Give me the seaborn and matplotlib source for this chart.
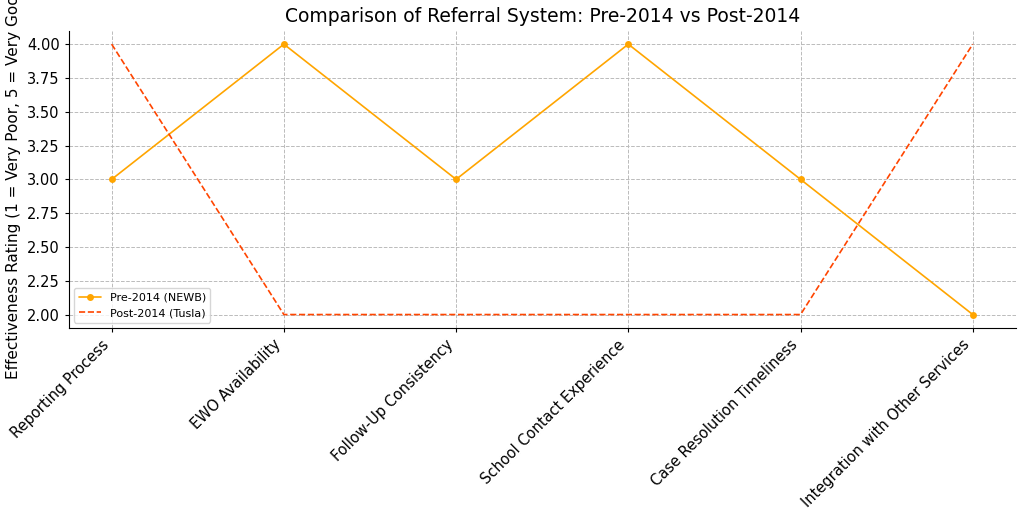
import pandas as pd
import matplotlib
matplotlib.use("Agg")
import matplotlib.pyplot as plt
import seaborn as sns

sns.set_style("whitegrid")
plt.rcParams['font.family'] = ['DejaVu Sans']
plt.rcParams['text.color'] = 'black'
plt.rcParams['xtick.color'] = 'black'
plt.rcParams['ytick.color'] = 'black'
plt.rcParams['axes.labelcolor'] = 'black'

aspects = ['Reporting Process', 'EWO Availability', 'Follow-Up Consistency',
           'School Contact Experience', 'Case Resolution Timeliness',
           'Integration with Other Services']
pre_2014 = [3, 4, 3, 4, 3, 2]
post_2014 = [4, 2, 2, 2, 2, 4]

df = pd.DataFrame({'Aspect': aspects, 'Pre': pre_2014, 'Post': post_2014})

fig, ax = plt.subplots(figsize=(10.24, 5.11), dpi=100)
sns.lineplot(x='Aspect', y='Pre', data=df, marker='o', markersize=5, markeredgewidth=0,
             color='orange', linewidth=1.2, label='Pre-2014 (NEWB)', ax=ax, sort=False)
sns.lineplot(x='Aspect', y='Post', data=df, color='orangered', linestyle='--',
             linewidth=1.2, label='Post-2014 (Tusla)', ax=ax, sort=False)

ax.set_title('Comparison of Referral System: Pre-2014 vs Post-2014', fontsize=13.5)
ax.set_xlabel('')
ax.set_ylabel('Effectiveness Rating (1 = Very Poor, 5 = Very Good)', fontsize=11)
ax.set_yticks([2.0 + 0.25 * i for i in range(9)])
ax.set_yticklabels([f"{2.0 + 0.25 * i:.2f}" for i in range(9)], fontsize=10.5)
ax.set_xlim(-0.25, 5.25)
ax.set_ylim(1.9, 4.1)
plt.setp(ax.get_xticklabels(), rotation=45, ha='right', fontsize=10.5)
ax.grid(True, linestyle='--', color='#bbbbbb', linewidth=0.7)
for s in ['top', 'right']:
    ax.spines[s].set_visible(False)
for s in ['left', 'bottom']:
    ax.spines[s].set_color('black')
    ax.spines[s].set_linewidth(0.8)
ax.tick_params(axis='both', which='both', length=3, left=True, bottom=True)
ax.legend(loc='lower left', fontsize=8, frameon=True)

plt.subplots_adjust(left=0.067, right=0.992, top=0.94, bottom=0.358)
plt.savefig('out.png', dpi=100)
